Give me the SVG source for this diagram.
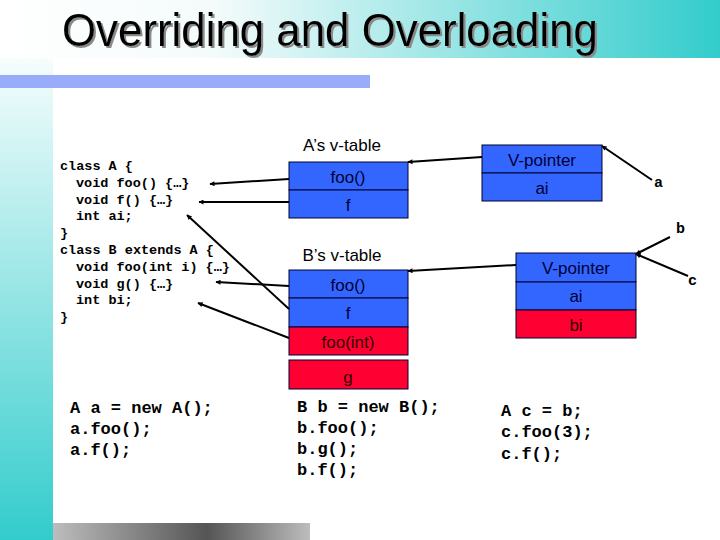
<svg xmlns="http://www.w3.org/2000/svg" width="720" height="540" viewBox="0 0 720 540">
<defs>
<linearGradient id="gTitle" x1="0" y1="0" x2="1" y2="0">
<stop offset="0" stop-color="#ffffff"/>
<stop offset="0.3" stop-color="#f4fbfb"/>
<stop offset="1" stop-color="#33cccc"/>
</linearGradient>
<linearGradient id="gLeft" x1="0" y1="0" x2="0" y2="1">
<stop offset="0" stop-color="#f6fdfd"/>
<stop offset="1" stop-color="#33cccc"/>
</linearGradient>
<linearGradient id="gGray" x1="0" y1="0" x2="1" y2="0">
<stop offset="0" stop-color="#bdbdbd"/>
<stop offset="0.6" stop-color="#555555"/>
<stop offset="1" stop-color="#bdbdbd"/>
</linearGradient>
<filter id="shadow" x="-5%" y="-20%" width="110%" height="140%">
<feDropShadow dx="2" dy="2" stdDeviation="0.3" flood-color="#8a8a8a" flood-opacity="1"/>
</filter>
<marker id="arr" viewBox="0 0 10 10" refX="9" refY="5" markerWidth="6" markerHeight="5" markerUnits="userSpaceOnUse" orient="auto">
<path d="M0,0 L10,5 L0,10 z" fill="#000"/>
</marker>
<style>
.code{font-family:"Liberation Mono","Courier New",monospace;font-weight:bold;font-size:13.5px;fill:#000;white-space:pre}
.code2{font-family:"Liberation Mono","Courier New",monospace;font-weight:bold;font-size:17px;fill:#000;white-space:pre}
.lbl{font-family:"Liberation Sans",Arial,sans-serif;font-size:17px;fill:#000;text-anchor:middle}
.cell{font-family:"Liberation Sans",Arial,sans-serif;font-size:17px;text-anchor:middle}
.blue{fill:#3366ff;stroke:#000033;stroke-width:1}
.red{fill:#ff0033;stroke:#000033;stroke-width:1}
.tb{fill:#000033}
.tr{fill:#330000}
.conn{stroke:#000;stroke-width:2;fill:none}
.lt{font-family:"Liberation Mono","Courier New",monospace;font-weight:bold;font-size:15px;fill:#000}
</style>
</defs>
<rect width="720" height="540" fill="#ffffff"/>
<rect x="0" y="0" width="720" height="58" fill="url(#gTitle)"/>
<rect x="0" y="58" width="53" height="482" fill="url(#gLeft)"/>
<rect x="0" y="75" width="370" height="13" fill="#99acfa"/>
<rect x="53" y="523" width="257" height="17" fill="url(#gGray)"/>
<text x="62" y="46" font-family="Liberation Sans,Arial,sans-serif" font-size="46" fill="#000" textLength="536" lengthAdjust="spacingAndGlyphs" filter="url(#shadow)">Overriding and Overloading</text>

<g id="classCode">
<text class="code" x="60" y="170">class A {</text>
<text class="code" x="76" y="187">void foo() {…}</text>
<text class="code" x="76" y="204">void f() {…}</text>
<text class="code" x="76" y="220">int ai;</text>
<text class="code" x="60" y="237">}</text>
<text class="code" x="60" y="254">class B extends A {</text>
<text class="code" x="76" y="271">void foo(int i) {…}</text>
<text class="code" x="76" y="288">void g() {…}</text>
<text class="code" x="76" y="304">int bi;</text>
<text class="code" x="60" y="321">}</text>
</g>

<g id="vtableA">
<text class="lbl" x="342" y="151">A’s v-table</text>
<rect class="blue" x="289" y="162" width="119" height="28"/>
<rect class="blue" x="289" y="190" width="119" height="28"/>
<text class="cell tb" x="348" y="183">foo()</text>
<text class="cell tb" x="348" y="211">f</text>
</g>

<g id="vtableB">
<text class="lbl" x="342" y="261">B’s v-table</text>
<rect class="blue" x="289" y="270" width="119" height="28"/>
<rect class="blue" x="289" y="298" width="119" height="29"/>
<rect class="red" x="289" y="327" width="119" height="28"/>
<text class="cell tb" x="348" y="291">foo()</text>
<text class="cell tb" x="348" y="319">f</text>
<text class="cell tr" x="348" y="348">foo(int)</text>
</g>

<g id="gEntry">
<rect class="red" x="289" y="360" width="119" height="29"/>
<text class="cell tr" x="348" y="383">g</text>
</g>

<g id="objA">
<rect class="blue" x="482" y="145" width="120" height="28"/>
<rect class="blue" x="482" y="173" width="120" height="28"/>
<text class="cell tb" x="542" y="166">V-pointer</text>
<text class="cell tb" x="542" y="194">ai</text>
</g>

<g id="objB">
<rect class="blue" x="516" y="253" width="120" height="29"/>
<rect class="blue" x="516" y="282" width="120" height="28"/>
<rect class="red" x="516" y="310" width="120" height="28"/>
<text class="cell tb" x="576" y="274">V-pointer</text>
<text class="cell tb" x="576" y="302">ai</text>
<text class="cell tr" x="576" y="331">bi</text>
</g>

<g id="refLabels">
<text class="lt" x="654" y="187">a</text>
<text class="lt" x="676" y="233">b</text>
<text class="lt" x="688" y="285">c</text>
</g>

<g id="connectors">
<path class="conn" d="M289,179 L210,184" marker-end="url(#arr)"/>
<path class="conn" d="M289,202 L199,202" marker-end="url(#arr)"/>
<path class="conn" d="M289,309 L187,215" marker-end="url(#arr)"/>
<path class="conn" d="M289,286 L216,282" marker-end="url(#arr)"/>
<path class="conn" d="M289,338 L198,303" marker-end="url(#arr)"/>
<path class="conn" d="M482,157 L408,162" marker-end="url(#arr)"/>
<path class="conn" d="M516,265 L408,271" marker-end="url(#arr)"/>
<path class="conn" d="M652,180 L602,146" marker-end="url(#arr)"/>
<path class="conn" d="M670,237 L636,254" marker-end="url(#arr)"/>
<path class="conn" d="M688,276 L636,254" marker-end="url(#arr)"/>
</g>

<g id="usageCode">
<text class="code2" x="70" y="413">A a = new A();</text>
<text class="code2" x="70" y="434">a.foo();</text>
<text class="code2" x="70" y="455">a.f();</text>
<text class="code2" x="297" y="412">B b = new B();</text>
<text class="code2" x="297" y="433">b.foo();</text>
<text class="code2" x="297" y="454">b.g();</text>
<text class="code2" x="297" y="475">b.f();</text>
<text class="code2" x="501" y="416">A c = b;</text>
<text class="code2" x="501" y="437">c.foo(3);</text>
<text class="code2" x="501" y="459">c.f();</text>
</g>
</svg>
